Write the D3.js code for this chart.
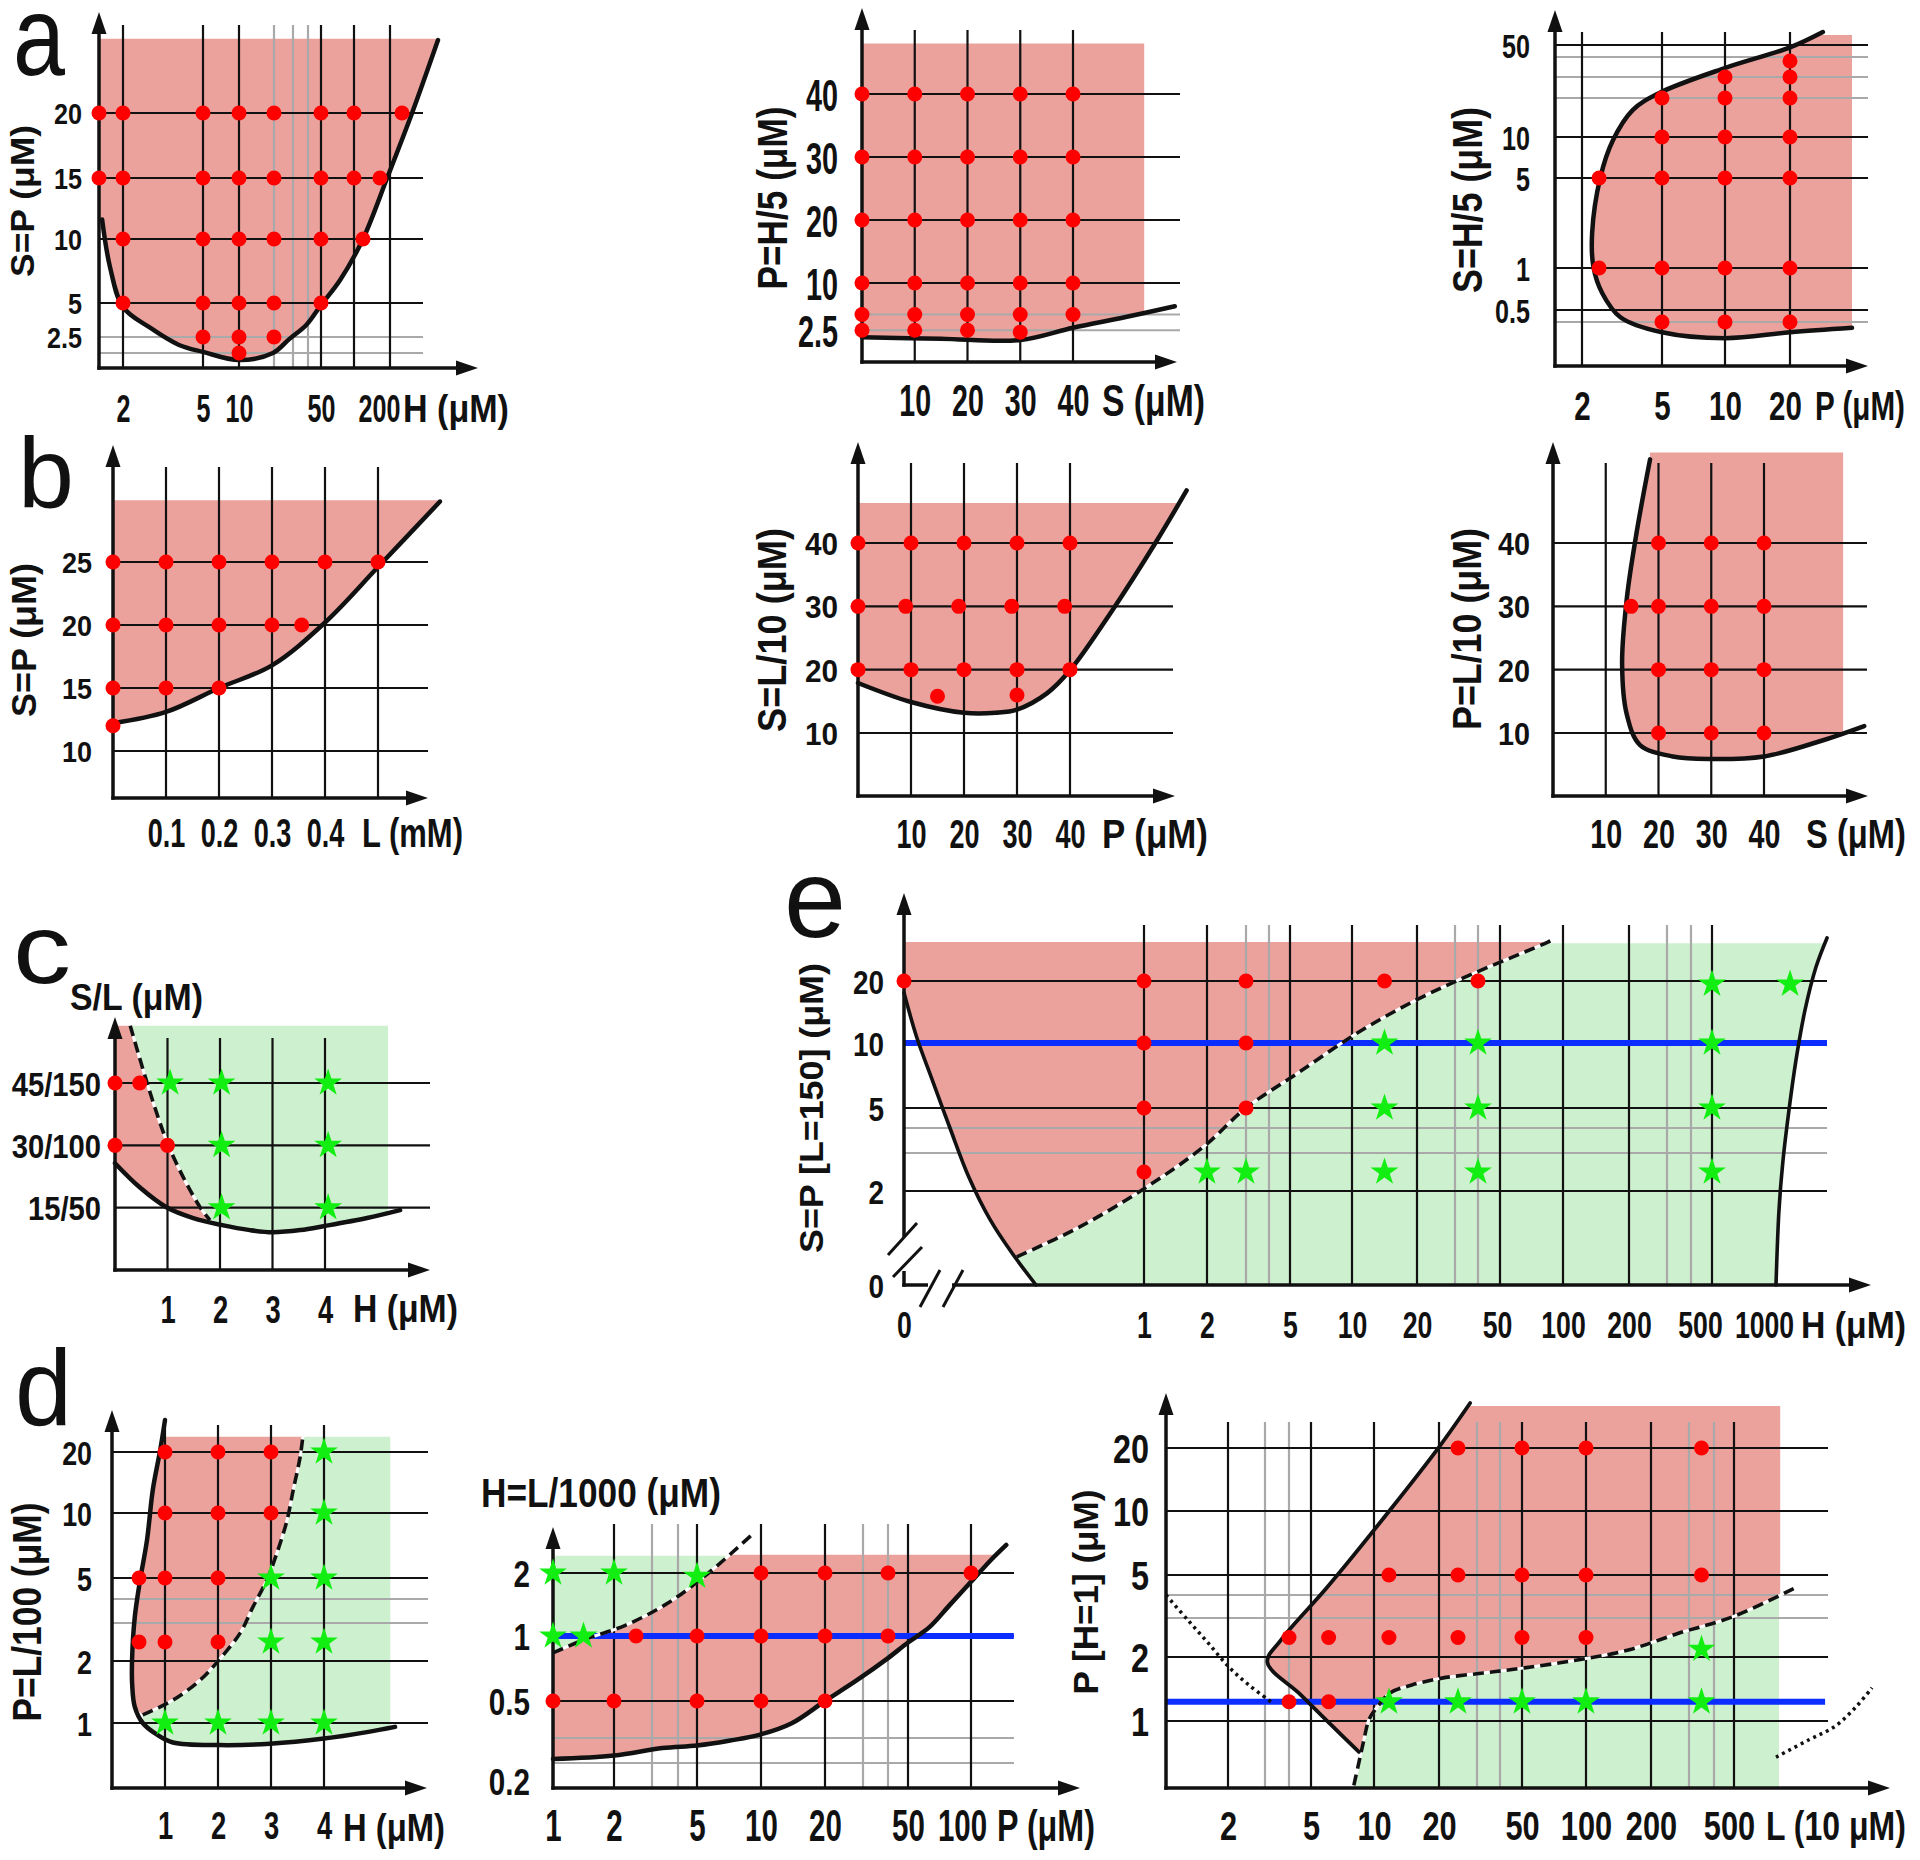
<!DOCTYPE html>
<html><head><meta charset="utf-8">
<script src="https://cdn.jsdelivr.net/npm/d3@7"></script>
<style>body{margin:0;background:#fff;}</style>
</head><body>
<script>
// ======================= DATA =======================
// ---- a (left): S=P vs H ----
const a1XStops=[1,2,5,10,20,30,40,50,100,200,400];
const a1YStops=[0,1,2.5,5,10,15,20,25];
const a1XGrid=[2,5,10,50,100,200], a1XGridGray=[20,30,40];
const a1YGrid=[5,10,15,20], a1YGridGray=[1,2.5];
const a1XTicks=[2,5,10,50,200], a1XLabels=['2','5','10','50','200'];
const a1YTicks=[20,15,10,5,2.5], a1YLabels=['20','15','10','5','2.5'];
const a1Dots=[[1,20],[2,20],[5,20],[10,20],[20,20],[50,20],[100,20],[250,20],
 [1,15],[2,15],[5,15],[10,15],[20,15],[50,15],[100,15],[172,15],
 [2,10],[5,10],[10,10],[20,10],[50,10],[125,10],
 [2,5],[5,5],[10,5],[20,5],[50,5],[5,2.5],[10,2.5],[20,2.5],[10,1]];
const a1Boundary=[[1.13,11.6],[1.46,7.8],[2,4.7],[3.0,3.2],[4.1,1.75],[5,1.1],[10,0.53],[19.7,1.0],[28,2.3],[39,3.4],[50,4.85],[79,6.8],[125,10],[192,15],[292,20],[400,25.7]];

// ---- a (middle): P=H/5 vs S ----
const a2XStops=[0,40], a2YStops=[0,40];
const a2XGrid=[10,20,30,40], a2YGrid=[10,20,30,40], a2YGridGray=[2.5,5];
const a2XTicks=[10,20,30,40], a2XLabels=['10','20','30','40'];
const a2YTicks=[40,30,20,10,2.5], a2YLabels=['40','30','20','10','2.5'];
const a2Dots=[[0,40],[10,40],[20,40],[30,40],[40,40],[0,30],[10,30],[20,30],[30,30],[40,30],
 [0,20],[10,20],[20,20],[30,20],[40,20],[0,10],[10,10],[20,10],[30,10],[40,10],
 [0,5],[10,5],[20,5],[30,5],[40,5],[0,2.5],[10,2.5],[20,2.5],[30,2.2]];
const a2Boundary=[[0,1.4],[15,1.15],[30,0.95],[40,2.9],[50,4.6],[59.3,6.3]];

// ---- a (right): S=H/5 vs P ----
const a3XStops=[1,2,5,10,20,30];
const a3YStops=[0.1,0.4,0.5,1,5,10,20,30,40,50,60];
const a3XGrid=[2,5,10,20], a3YGrid=[0.5,1,5,10,50], a3YGridGray=[0.4,20,30,40];
const a3XTicks=[2,5,10,20], a3XLabels=['2','5','10','20'];
const a3YTicks=[50,10,5,1,0.5], a3YLabels=['50','10','5','1','0.5'];
const a3Dots=[[20,38],[20,30],[20,20],[20,10],[20,5],[20,1],[20,0.4],[10,30],[10,20],[10,10],[10,5],[10,1],[10,0.4],
 [5,20],[5,10],[5,5],[5,1],[5,0.4],[2.64,5],[2.64,1]];
const a3Boundary=[[30,0.36],[20,0.33],[10,0.29],[5,0.33],[3.44,0.44],[2.76,0.7],[2.43,1.04],[2.38,2.56],[2.69,5.1],[3.16,9.6],[3.9,16.9],[4.9,22.4],[10,34.5],[20,48],[25.3,60]];

// ---- b (left): S=P vs L ----
const b1XStops=[0,0.5], b1YStops=[10,25];
const b1XGrid=[0.1,0.2,0.3,0.4,0.5], b1YGrid=[10,15,20,25];
const b1XTicks=[0.1,0.2,0.3,0.4], b1XLabels=['0.1','0.2','0.3','0.4'];
const b1YTicks=[25,20,15,10], b1YLabels=['25','20','15','10'];
const b1Dots=[[0,25],[0.1,25],[0.2,25],[0.3,25],[0.4,25],[0.5,25],[0,20],[0.1,20],[0.2,20],[0.3,20],[0.356,20],[0,15],[0.1,15],[0.2,15],[0,12]];
const b1Boundary=[[0,12.2],[0.1,13.1],[0.2,15],[0.3,16.8],[0.4,20.2],[0.5,24.6],[0.617,29.8]];

// ---- b (middle): S=L/10 vs P ----
const b2XStops=[0,40], b2YStops=[10,40];
const b2XGrid=[10,20,30,40], b2YGrid=[10,20,30,40];
const b2XTicks=[10,20,30,40], b2XLabels=['10','20','30','40'];
const b2YTicks=[40,30,20,10], b2YLabels=['40','30','20','10'];
const b2Dots=[[0,40],[10,40],[20,40],[30,40],[40,40],[0,30],[9,30],[19,30],[29,30],[39,30],[0,20],[10,20],[20,20],[30,20],[40,20],[15,15.8],[30,16]];
const b2Boundary=[[0,17.9],[10,14.9],[20,13.2],[26,13.2],[30,13.7],[35.7,16.3],[40,19.9],[48,29.4],[56.4,40.4],[62,48.3]];

// ---- b (right): P=L/10 vs S ----
const b3XStops=[0,40], b3YStops=[10,40];
const b3XGrid=[10,20,30,40], b3YGrid=[10,20,30,40];
const b3XTicks=[10,20,30,40], b3XLabels=['10','20','30','40'];
const b3YTicks=[40,30,20,10], b3YLabels=['40','30','20','10'];
const b3Dots=[[20,40],[30,40],[40,40],[14.8,30],[20,30],[30,30],[40,30],[20,20],[30,20],[40,20],[20,10],[30,10],[40,10]];
const b3Boundary=[[18.4,53.2],[15.9,41.9],[14,31.3],[13.1,20.9],[14,12.9],[16.5,8.1],[22.7,6.3],[30,5.9],[40,6.3],[50.6,8.7],[59,11.1]];

// ---- c: S/L vs H ----
const cXStops=[0,4], cYStops=[0,45];
const cXGrid=[1,2,3,4], cYGrid=[15,30,45];
const cXTicks=[1,2,3,4], cXLabels=['1','2','3','4'];
const cYTicks=[45,30,15], cYLabels=['45/150','30/100','15/50'];
const cDots=[[0,45],[0.47,45],[0,30],[1,30]];
const cStars=[[1.05,45],[2.03,45],[4.06,45],[2.03,30],[4.06,30],[2.03,15],[4.06,15]];
const cBoundary=[[0,25.7],[0.47,19.9],[0.98,15.1],[1.49,12.5],[2.04,10.8],[2.57,9.6],[3,9.1],[3.53,9.6],[4,10.6],[4.8,12.5],[5.43,14.4]];
const cDivide=[[0.29,58.8],[1,30.5],[1.62,15.1],[1.81,12.0]];

// ---- e: S=P [L=150] vs H ----
const eXStops=[0,1,2,3,4,5,10,20,30,40,50,100,200,300,400,500,1000,2000];
const eYStops=[0,2,3,4,5,10,20,30];
const eXGrid=[1,2,5,10,20,50,100,200,500], eXGridGray=[3,4,30,40,300,400];
const eYGrid=[2,5,10,20], eYGridGray=[3,4];
const eXTicks=[0,1,2,5,10,20,50,100,200,500,1000], eXLabels=['0','1','2','5','10','20','50','100','200','500','1000'];
const eYTicks=[20,10,5,2,0], eYLabels=['20','10','5','2','0'];
const eDots=[[0,20],[1,20],[3,20],[15,20],[40,20],[1,10],[3,10],[1,5],[3,5],[1,2.5]];
const eStars=[[500,19.5],[1220,19.5],[15,10],[40,10],[500,10],[15,5],[40,5],[500,5],[2,2.5],[3,2.5],[15,2.5],[40,2.5],[500,2.5]];
const eLeft=[[0,18.1],[0.054,10.8],[0.113,7.4],[0.19,4.05],[0.27,2.37],[0.36,1.38],[0.45,0.68],[0.55,0]];
const eRight=[[1797,30.5],[1625,23.4],[1453,15.3],[1313,8.7],[1203,4.9],[1109,2.8],[1047,1.6],[1000,0]];
const eDivide=[[0.47,0.6],[0.73,1.23],[1,2.06],[1.94,3.24],[3,5],[5.65,7.7],[10.8,11.6],[19.8,16.9],[38.7,22],[88,29.5],[94,30.5]];
const eBlue=[[0,10],[1797,10]];

// ---- d (left): P=L/100 vs H ----
const d1XStops=[0,4], d1YStops=[0.5,1,2,3,4,5,10,20,40];
const d1XGrid=[1,2,3,4], d1YGrid=[1,2,5,10,20], d1YGridGray=[3,4];
const d1XTicks=[1,2,3,4], d1XLabels=['1','2','3','4'];
const d1YTicks=[20,10,5,2,1], d1YLabels=['20','10','5','2','1'];
const d1Dots=[[1,20],[2,20],[3,20],[1,10],[2,10],[3,10],[0.51,5],[1,5],[2,5],[0.51,2.5],[1,2.5],[2,2.5]];
const d1Stars=[[4,20],[4,10],[3,5],[4,5],[3,2.5],[4,2.5],[1,1],[2,1],[3,1],[4,1]];
const d1Boundary=[[1.0,30.5],[0.91,20.7],[0.77,13.8],[0.66,7.9],[0.53,4.9],[0.43,3.25],[0.38,2.1],[0.38,1.63],[0.43,1.26],[0.58,1.0],[0.85,0.91],[1.15,0.85],[2.02,0.83],[2.98,0.84],[4.0,0.88],[4.81,0.93],[5.34,0.97]];
const d1Divide=[[0.58,1.13],[1.15,1.37],[1.66,1.69],[2.02,2.03],[2.42,2.74],[2.66,3.67],[2.92,4.9],[3.11,6.9],[3.3,9.4],[3.42,13.8],[3.55,19.2],[3.6,25]];

// ---- d (middle): H=L/1000 vs P ----
const d2XStops=[1,2,3,4,5,10,20,30,40,50,100,200];
const d2YStops=[0.18,0.2,0.3,0.4,0.5,1,2,3];
const d2XGrid=[2,5,10,20,50,100], d2XGridGray=[3,4,30,40];
const d2YGrid=[0.5,1,2], d2YGridGray=[0.3,0.4];
const d2XTicks=[1,2,5,10,20,50,100], d2XLabels=['1','2','5','10','20','50','100'];
const d2YTicks=[2,1,0.5,0.2], d2YLabels=['2','1','0.5','0.2'];
const d2Dots=[[10,2],[20,2],[40,2],[100,2],[2.58,1],[5,1],[10,1],[20,1],[40,1],[1,0.5],[2,0.5],[5,0.5],[10,0.5],[20,0.5]];
const d2Stars=[[1,2],[2,2],[5,1.95],[1,1],[1.5,1]];
const d2Boundary=[[1,0.316],[2,0.33],[3.4,0.36],[5,0.37],[7.6,0.39],[10,0.41],[14.8,0.44],[20,0.5],[28.4,0.66],[40,0.83],[50,0.95],[67,1.14],[83,1.49],[100,1.86],[132,2.4],[156,2.85]];
const d2Divide=[[1,0.87],[1.5,0.97],[2.3,1.17],[3.6,1.52],[5.9,2.0],[9.4,3.2]];
const d2Blue=[[1,1],[168,1]];

// ---- d (right): P [H=1] vs L ----
const d3XStops=[1,2,3,4,5,10,20,30,40,50,100,200,300,400,500,1000,2000];
const d3YStops=[0.5,1,2,3,4,5,10,20,40];
const d3XGrid=[2,5,10,20,50,100,200,500], d3XGridGray=[3,4,30,40,300,400];
const d3YGrid=[1,2,5,10,20], d3YGridGray=[3,4];
const d3XTicks=[2,5,10,20,50,100,200,500], d3XLabels=['2','5','10','20','50','100','200','500'];
const d3YTicks=[20,10,5,2,1], d3YLabels=['20','10','5','2','1'];
const d3Dots=[[25,20],[50,20],[100,20],[350,20],[12.3,5],[25,5],[50,5],[100,5],[350,5],[4,2.5],[6.4,2.5],[12.3,2.5],[25,2.5],[50,2.5],[100,2.5],[4,1.3],[6.4,1.3]];
const d3Stars=[[350,2.2],[12.3,1.3],[25,1.3],[50,1.3],[100,1.3],[350,1.3]];
const d3Boundary=[[28.2,34.3],[20,20.3],[12.5,10.2],[6.3,4.4],[3.67,2.44],[3.1,1.92],[4.5,1.42],[6.5,0.98],[8.8,0.77]];
const d3Divide=[[8.4,0.52],[8.8,0.69],[9.2,0.86],[9.6,1.02],[10.5,1.22],[12.5,1.44],[15.7,1.56],[20.8,1.67],[32.6,1.75],[52,1.83],[92,1.95],[165,2.18],[276,2.62],[490,3.04],[977,4.4]];
const d3DotLeft=[[1,4],[1.35,2.95],[1.68,2.36],[2.03,1.84],[2.57,1.56],[3.25,1.3]];
const d3DotRight=[[818,0.73],[1136,0.86],[1530,0.96],[1848,1.22],[2091,1.52]];
const d3Blue=[[1,1.3],[1380,1.3]];

// ---- texts ----
const panelLetters=['a','b','c','d','e'];
const yTitles=['S=P (\u03bcM)','P=H/5 (\u03bcM)','S=H/5 (\u03bcM)','S=P (\u03bcM)','S=L/10 (\u03bcM)','P=L/10 (\u03bcM)','S=P [L=150] (\u03bcM)','P=L/100 (\u03bcM)','P [H=1] (\u03bcM)'];
const xNames=['H (\u03bcM)','S (\u03bcM)','P (\u03bcM)','L (mM)','P (\u03bcM)','S (\u03bcM)','H (\u03bcM)','H (\u03bcM)','H (\u03bcM)','P (\u03bcM)','L (10 \u03bcM)'];
const topTitles=['S/L (\u03bcM)','H=L/1000 (\u03bcM)'];

// ======================= DRAWING =======================
const FONT='"Liberation Sans",Arial,sans-serif';
const C={fillR:'#eba19c',fillG:'#cdf0ce',dot:'#ff0000',star:'#12ee12',blue:'#0b2dff',gray:'#a9a9a9',ink:'#111'};
const svg=d3.select('body').append('svg').attr('width',1920).attr('height',1860).style('background','#fff');
const defs=svg.append('defs');

// text squeezed horizontally to a target length via transform (start anchored)
function fitText(parent,str,fs,len,tx,ty,rot,weight){
  const t=parent.append('text').attr('font-family',FONT).attr('font-weight',weight||'bold')
    .attr('fill',C.ink).attr('font-size',fs).attr('dy',rot?'0.36em':(weight==='normal'?null:'0.36em')).text(str);
  const nat=t.node().getComputedTextLength()||len;
  const s=len/nat;
  if(rot){ t.attr('x',-nat/2).attr('transform',`translate(${tx},${ty}) rotate(-90) scale(${s},1)`); }
  else { t.attr('transform',`translate(${tx},${ty}) scale(${s},1)`); }
  return t;
}

function drawPanel(P){
  const L=P.L;
  const x=d3.scaleLinear().domain(P.xStops).range(L.xPx);
  const y=d3.scaleLinear().domain(P.yStops).range(L.yPx);
  const g=svg.append('g');
  const sm=d3.line().x(d=>x(d[0])).y(d=>y(d[1])).curve(d3.curveCatmullRom.alpha(0.5));
  const st=d3.line().x(d=>x(d[0])).y(d=>y(d[1]));
  (P.fills||[]).forEach((f,i)=>{
    const id=P.id+'clip'+i;
    const X0=x(f.clip[0]),X1=x(f.clip[1]),Y0=y(f.clip[2]),Y1=y(f.clip[3]);
    defs.append('clipPath').attr('id',id).append('rect')
      .attr('x',Math.min(X0,X1)).attr('y',Math.min(Y0,Y1))
      .attr('width',Math.abs(X1-X0)).attr('height',Math.abs(Y1-Y0));
    let d='';
    f.segs.forEach((s,j)=>{let p=(s.smooth?sm:st)(s.pts).replace(/Z$/,''); if(j>0)p='L'+p.slice(1); d+=p;});
    g.append('path').attr('d',d+'Z').attr('fill',f.color).attr('clip-path',`url(#${id})`);
  });
  const vline=(vals,col)=>g.append('g').selectAll('line').data(vals||[]).join('line')
    .attr('x1',d=>x(d)).attr('x2',d=>x(d)).attr('y1',L.gridTop).attr('y2',L.oy)
    .attr('stroke',col).attr('stroke-width',2.2);
  const hline=(vals,col)=>g.append('g').selectAll('line').data(vals||[]).join('line')
    .attr('x1',L.ox).attr('x2',L.gridRight).attr('y1',d=>y(d)).attr('y2',d=>y(d))
    .attr('stroke',col).attr('stroke-width',2.2);
  vline(P.xGridGray,C.gray); hline(P.yGridGray,C.gray);
  vline(P.xGrid,C.ink); hline(P.yGrid,C.ink);
  (P.blue||[]).forEach(b=>g.append('path').attr('d',st(b)).attr('fill','none').attr('stroke',C.blue).attr('stroke-width',6));
  (P.dotted||[]).forEach(c=>g.append('path').attr('d',sm(c)).attr('fill','none').attr('stroke',C.ink)
    .attr('stroke-width',3.5).attr('stroke-dasharray','3,4'));
  (P.dashed||[]).forEach(c=>{
    g.append('path').attr('d',sm(c)).attr('fill','none').attr('stroke','#fff').attr('stroke-width',3);
    g.append('path').attr('d',sm(c)).attr('fill','none').attr('stroke',C.ink).attr('stroke-width',3.6).attr('stroke-dasharray','11,6');
  });
  (P.solid||[]).forEach(c=>g.append('path').attr('d',sm(c)).attr('fill','none').attr('stroke',C.ink)
    .attr('stroke-width',L.cw||4.5).attr('stroke-linecap','round').attr('stroke-linejoin','round'));
  g.append('line').attr('x1',L.ox).attr('y1',L.oy+1.7).attr('x2',L.ox).attr('y2',L.yTip+18).attr('stroke',C.ink).attr('stroke-width',3.5);
  g.append('path').attr('d',`M${L.ox},${L.yTip}L${L.ox-7.5},${L.yTip+22}L${L.ox+7.5},${L.yTip+22}Z`).attr('fill',C.ink);
  g.append('line').attr('x1',L.ox-1.7).attr('y1',L.oy).attr('x2',L.xTip-18).attr('y2',L.oy).attr('stroke',C.ink).attr('stroke-width',3.5);
  g.append('path').attr('d',`M${L.xTip},${L.oy}L${L.xTip-22},${L.oy-7.5}L${L.xTip-22},${L.oy+7.5}Z`).attr('fill',C.ink);
  if(L.extra) L.extra(g);
  g.append('g').selectAll('circle').data(P.dots||[]).join('circle')
    .attr('cx',d=>x(d[0])).attr('cy',d=>y(d[1])).attr('r',7.5).attr('fill',C.dot);
  const star=d3.symbol().type(d3.symbolStar).size(240);
  g.append('g').selectAll('path').data(P.stars||[]).join('path')
    .attr('transform',d=>`translate(${x(d[0])},${y(d[1])})`).attr('d',star).attr('fill',C.star);
  const gx=g.append('g').attr('transform',`translate(0,${L.oy})`)
    .call(d3.axisBottom(x).tickValues(P.xTicks).tickFormat((d,i)=>P.xLabels[i]).tickSize(0));
  gx.select('.domain').remove();
  gx.attr('font-family',FONT).attr('font-size',L.xfs).attr('font-weight','bold');
  gx.selectAll('text').attr('y',L.xLab).attr('dy','0.36em').attr('fill',C.ink)
    .attr('x',d=>((L.xDx&&L.xDx[d])||0)/L.xsx)
    .attr('transform',`scale(${L.xsx},1)`);
  const gy=g.append('g').attr('transform',`translate(${L.ox},0)`)
    .call(d3.axisLeft(y).tickValues(P.yTicks).tickFormat((d,i)=>P.yLabels[i]).tickSize(0));
  gy.select('.domain').remove();
  gy.attr('font-family',FONT).attr('font-size',L.yfs).attr('font-weight','bold');
  gy.selectAll('text').attr('x',-L.yPad/L.ysx).attr('dy','0.36em').attr('fill',C.ink)
    .attr('transform',`scale(${L.ysx},1)`);
  if(L.yTitle) fitText(g,P.yTitle,L.yTitle.fs,L.yTitle.len,L.yTitle.cx,L.yTitle.cy,true);
  if(L.hTitle) fitText(g,P.hTitle,L.hTitle.fs,L.hTitle.len,L.hTitle.x,L.hTitle.cy,false);
  fitText(g,P.xName,L.xfs,L.xName.len,L.xName.x,L.xName.cy,false);
}

const R=C.fillR, G=C.fillG;
const panels=[
 {id:'a1',xStops:a1XStops,yStops:a1YStops,xGrid:a1XGrid,xGridGray:a1XGridGray,yGrid:a1YGrid,yGridGray:a1YGridGray,
  xTicks:a1XTicks,xLabels:a1XLabels,yTicks:a1YTicks,yLabels:a1YLabels,dots:a1Dots,solid:[a1Boundary],
  fills:[{color:R,clip:[1,500,0,25.8],segs:[{pts:[[1,30],[1,11.6]]},{pts:a1Boundary,smooth:true},{pts:[[400,30]]}]}],
  yTitle:yTitles[0],xName:xNames[0],
  L:{xPx:[99,123,203,239,274,293,308,321,354,390,438],yPx:[368,353,337,303,239,178,113,49],
   ox:99,oy:368,yTip:12,xTip:478,gridTop:25,gridRight:423,xLab:40,yPad:17,xfs:38,xsx:0.66,yfs:30,ysx:0.84,xDx:{200:-11},
   yTitle:{cx:22,cy:201,len:152,fs:34},xName:{x:403,cy:408,len:106}}},
 {id:'a2',xStops:a2XStops,yStops:a2YStops,xGrid:a2XGrid,yGrid:a2YGrid,yGridGray:a2YGridGray,
  xTicks:a2XTicks,xLabels:a2XLabels,yTicks:a2YTicks,yLabels:a2YLabels,dots:a2Dots,solid:[a2Boundary],
  fills:[{color:R,clip:[0,53.5,-2.5,48],segs:[{pts:[[0,60],[0,1.4]]},{pts:a2Boundary,smooth:true},{pts:[[59.3,60]]}]}],
  yTitle:yTitles[1],xName:xNames[1],
  L:{xPx:[862,1073],yPx:[346,94],ox:862,oy:362,yTip:8,xTip:1177,gridTop:30,gridRight:1180,xLab:38,yPad:24,
   xfs:44,xsx:0.65,yfs:45,ysx:0.64,yTitle:{cx:772,cy:198,len:183,fs:42},xName:{x:1102,cy:400,len:103}}},
 {id:'a3',xStops:a3XStops,yStops:a3YStops,xGrid:a3XGrid,yGrid:a3YGrid,yGridGray:a3YGridGray,
  xTicks:a3XTicks,xLabels:a3XLabels,yTicks:a3YTicks,yLabels:a3YLabels,dots:a3Dots,solid:[a3Boundary],
  fills:[{color:R,clip:[1,30,0.1,57.7],segs:[{pts:a3Boundary,smooth:true},{pts:[[25.3,80],[40,80],[40,0.36]]}]}],
  yTitle:yTitles[2],xName:xNames[2],
  L:{xPx:[1555,1582,1662,1725,1790,1852],yPx:[366,322,310,268,178,137,98,77,57,45,32],
   ox:1555,oy:366,yTip:10,xTip:1868,gridTop:32,gridRight:1868,xLab:39,yPad:25,xfs:41,xsx:0.72,yfs:34,ysx:0.74,xDx:{20:-5},
   yTitle:{cx:1467,cy:200,len:186,fs:42},xName:{x:1815,cy:405,len:90}}},
 {id:'b1',xStops:b1XStops,yStops:b1YStops,xGrid:b1XGrid,yGrid:b1YGrid,
  xTicks:b1XTicks,xLabels:b1XLabels,yTicks:b1YTicks,yLabels:b1YLabels,dots:b1Dots,solid:[b1Boundary],
  fills:[{color:R,clip:[0,0.7,6.3,29.9],segs:[{pts:[[0,40],[0,12.2]]},{pts:b1Boundary,smooth:true},{pts:[[0.7,40]]}]}],
  yTitle:yTitles[3],xName:xNames[3],
  L:{xPx:[113,378],yPx:[751,562],ox:113,oy:798,yTip:445,xTip:428,gridTop:467,gridRight:428,xLab:34,yPad:21,
   xfs:41,xsx:0.66,yfs:30,ysx:0.9,yTitle:{cx:23,cy:640,len:154,fs:36},xName:{x:362,cy:832,len:101}}},
 {id:'b2',xStops:b2XStops,yStops:b2YStops,xGrid:b2XGrid,yGrid:b2YGrid,
  xTicks:b2XTicks,xLabels:b2XLabels,yTicks:b2YTicks,yLabels:b2YLabels,dots:b2Dots,solid:[b2Boundary],
  fills:[{color:R,clip:[0,70,0,46.3],segs:[{pts:[[0,60],[0,17.9]]},{pts:b2Boundary,smooth:true},{pts:[[62,60]]}]}],
  yTitle:yTitles[4],xName:xNames[4],
  L:{xPx:[858,1070],yPx:[733,543],ox:858,oy:796,yTip:442,xTip:1175,gridTop:463,gridRight:1173,xLab:37,yPad:20,
   xfs:41,xsx:0.66,yfs:32,ysx:0.93,yTitle:{cx:772,cy:630,len:204,fs:40},xName:{x:1102,cy:833,len:106}}},
 {id:'b3',xStops:b3XStops,yStops:b3YStops,xGrid:b3XGrid,yGrid:b3YGrid,
  xTicks:b3XTicks,xLabels:b3XLabels,yTicks:b3YTicks,yLabels:b3YLabels,dots:b3Dots,solid:[b3Boundary],
  fills:[{color:R,clip:[0,55,0,54.3],segs:[{pts:b3Boundary,smooth:true},{pts:[[59,70],[18.4,70]]}]}],
  yTitle:yTitles[5],xName:xNames[5],
  L:{xPx:[1553,1764],yPx:[733,543],ox:1553,oy:796,yTip:442,xTip:1868,gridTop:463,gridRight:1867,xLab:37,yPad:23,
   xfs:41,xsx:0.7,yfs:32,ysx:0.9,yTitle:{cx:1467,cy:629,len:202,fs:40},xName:{x:1806,cy:833,len:100}}},
 {id:'c',xStops:cXStops,yStops:cYStops,xGrid:cXGrid,yGrid:cYGrid,
  xTicks:cXTicks,xLabels:cXLabels,yTicks:cYTicks,yLabels:cYLabels,dots:cDots,stars:cStars,
  solid:[cBoundary],dashed:[cDivide],
  fills:[{color:R,clip:[0,5.2,0,58.8],segs:[{pts:[[0,70],[0.29,70]]},{pts:cDivide,smooth:true},{pts:cBoundary.slice(0,4).reverse(),smooth:true}]},
         {color:G,clip:[0,5.2,0,58.8],segs:[{pts:[[0.29,70]]},{pts:cDivide,smooth:true},{pts:cBoundary.slice(4),smooth:true},{pts:[[5.43,70]]}]}],
  hTitle:topTitles[0],xName:xNames[6],
  L:{xPx:[115,325],yPx:[1270,1083],ox:115,oy:1270,yTip:1017,xTip:430,gridTop:1038,gridRight:430,xLab:39,yPad:14,
   xfs:38,xsx:0.72,yfs:34,ysx:0.86,hTitle:{x:70,cy:997,len:133,fs:36},xName:{x:353,cy:1308,len:105}}},
 {id:'e',xStops:eXStops,yStops:eYStops,xGrid:eXGrid,xGridGray:eXGridGray,yGrid:eYGrid,yGridGray:eYGridGray,
  xTicks:eXTicks,xLabels:eXLabels,yTicks:eYTicks,yLabels:eYLabels,dots:eDots,stars:eStars,
  solid:[eLeft,eRight],dashed:[eDivide],blue:[eBlue],
  fills:[{color:R,clip:[0,2000,0,29.5],segs:[{pts:[[0,40],[0,18.1]]},{pts:eLeft.slice(0,7),smooth:true},{pts:eDivide,smooth:true},{pts:[[100,40]]}]},
         {color:G,clip:[0,2000,0,29.2],segs:[{pts:eDivide,smooth:true},{pts:[[94,40],[1797,40]]},{pts:eRight,smooth:true},{pts:[[0.55,0]]}]}],
  yTitle:yTitles[6],xName:xNames[7],
  L:{xPx:[904,1144,1207,1246,1269,1290,1352,1417,1455,1478,1500,1563,1629,1667,1691,1712,1776,1840],
   yPx:[1285,1191,1153,1128,1108,1043,981,940],
   ox:904,oy:1285,yTip:893,xTip:1871,gridTop:925,gridRight:1827,xLab:40,yPad:20,cw:3.6,
   xfs:37,xsx:0.72,yfs:34,ysx:0.82,xDx:{500:-12,1000:-12,50:-3},
   yTitle:{cx:811,cy:1108,len:290,fs:34},xName:{x:1801,cy:1325,len:105},
   extra:(g)=>{
     g.append('rect').attr('x',897).attr('y',1237).attr('width',14).attr('height',34).attr('fill','#fff');
     g.append('rect').attr('x',928).attr('y',1280).attr('width',24).attr('height',10).attr('fill','#fff');
     [[917,1223,888,1255],[922,1247,893,1277],[940,1270,920,1307],[963,1270,943,1307]].forEach(s=>
       g.append('line').attr('x1',s[0]).attr('y1',s[1]).attr('x2',s[2]).attr('y2',s[3]).attr('stroke',C.ink).attr('stroke-width',3));
   }}},
 {id:'d1',xStops:d1XStops,yStops:d1YStops,xGrid:d1XGrid,yGrid:d1YGrid,yGridGray:d1YGridGray,
  xTicks:d1XTicks,xLabels:d1XLabels,yTicks:d1YTicks,yLabels:d1YLabels,dots:d1Dots,stars:d1Stars,
  solid:[d1Boundary],dashed:[d1Divide],
  fills:[{color:R,clip:[0,5.25,0.5,25],segs:[{pts:d1Boundary.slice(0,9),smooth:true},{pts:d1Divide,smooth:true},{pts:[[3.7,40],[1.05,40]]}]},
         {color:G,clip:[0,5.25,0.5,25],segs:[{pts:d1Divide,smooth:true},{pts:[[3.7,40],[6,40],[6,0.97]]},{pts:d1Boundary.slice(9).reverse(),smooth:true}]}],
  yTitle:yTitles[7],xName:xNames[8],
  L:{xPx:[112,324],yPx:[1788,1723,1661,1623,1599,1578,1513,1452,1391],
   ox:112,oy:1788,yTip:1410,xTip:427,gridTop:1425,gridRight:428,xLab:37,yPad:20,
   xfs:38,xsx:0.72,yfs:34,ysx:0.79,yTitle:{cx:27,cy:1612,len:219,fs:40},xName:{x:343,cy:1827,len:102}}},
 {id:'d2',xStops:d2XStops,yStops:d2YStops,xGrid:d2XGrid,xGridGray:d2XGridGray,yGrid:d2YGrid,yGridGray:d2YGridGray,
  xTicks:d2XTicks,xLabels:d2XLabels,yTicks:d2YTicks,yLabels:d2YLabels,dots:d2Dots,stars:d2Stars,
  solid:[d2Boundary],dashed:[d2Divide],blue:[d2Blue],
  fills:[{color:G,clip:[1,200,0.18,2.52],segs:[{pts:d2Divide,smooth:true},{pts:[[9.4,4],[1,4]]}]},
         {color:R,clip:[1,200,0.18,2.55],segs:[{pts:d2Divide,smooth:true},{pts:[[160,4]]},{pts:d2Boundary.slice().reverse(),smooth:true}]}],
  hTitle:topTitles[1],xName:xNames[9],
  L:{xPx:[553,614,652,678,697,761,825,863,888,908,971,1034],yPx:[1788,1781,1763,1738,1701,1636,1573,1540],
   ox:553,oy:1788,yTip:1527,xTip:1080,gridTop:1524,gridRight:1014,xLab:37,yPad:23,
   xfs:44,xsx:0.67,yfs:37,ysx:0.8,xDx:{100:-9},hTitle:{x:481,cy:1492,len:240,fs:41},xName:{x:997,cy:1825,len:98}}},
 {id:'d3',xStops:d3XStops,yStops:d3YStops,xGrid:d3XGrid,xGridGray:d3XGridGray,yGrid:d3YGrid,yGridGray:d3YGridGray,
  xTicks:d3XTicks,xLabels:d3XLabels,yTicks:d3YTicks,yLabels:d3YLabels,dots:d3Dots,stars:d3Stars,
  solid:[d3Boundary],dashed:[d3Divide],dotted:[d3DotLeft,d3DotRight],blue:[d3Blue],
  fills:[{color:R,clip:[1,850,0.5,33.3],segs:[{pts:[[28.2,40]]},{pts:d3Boundary,smooth:true},{pts:d3Divide.slice(1),smooth:true},{pts:[[977,40]]}]},
         {color:G,clip:[1,840,0.5,33.3],segs:[{pts:d3Divide,smooth:true},{pts:[[977,0.4],[8.3,0.4]]}]}],
  yTitle:yTitles[8],xName:xNames[10],
  L:{xPx:[1166,1228,1265,1289,1311,1374,1439,1477,1500,1522,1586,1651,1689,1714,1734,1800,1866],
   yPx:[1788,1721,1657,1618,1595,1575,1511,1448,1385],
   ox:1166,oy:1788,yTip:1393,xTip:1890,gridTop:1422,gridRight:1828,xLab:37,yPad:17,cw:3.8,
   xfs:41,xsx:0.75,yfs:41,ysx:0.79,xDx:{500:-5},yTitle:{cx:1085,cy:1592,len:205,fs:36},xName:{x:1766,cy:1825,len:140}}}
];
panels.forEach(drawPanel);

// panel letters
const letterPos=[{x:13,y:75,len:52,fs:114},{x:18,y:508,len:56,fs:100},{x:13,y:983,len:58,fs:98},{x:15,y:1425,len:57,fs:108},{x:784,y:937,len:62,fs:112}];
const lg=svg.append('g');
panelLetters.forEach((d,i)=>{
  const p=letterPos[i];
  const t=lg.append('text').attr('font-family',FONT).attr('font-size',p.fs).attr('fill','#111').text(d);
  const nat=t.node().getComputedTextLength()||p.len;
  t.attr('transform',`translate(${p.x},${p.y}) scale(${p.len/nat},1)`);
});
</script>
</body></html>
